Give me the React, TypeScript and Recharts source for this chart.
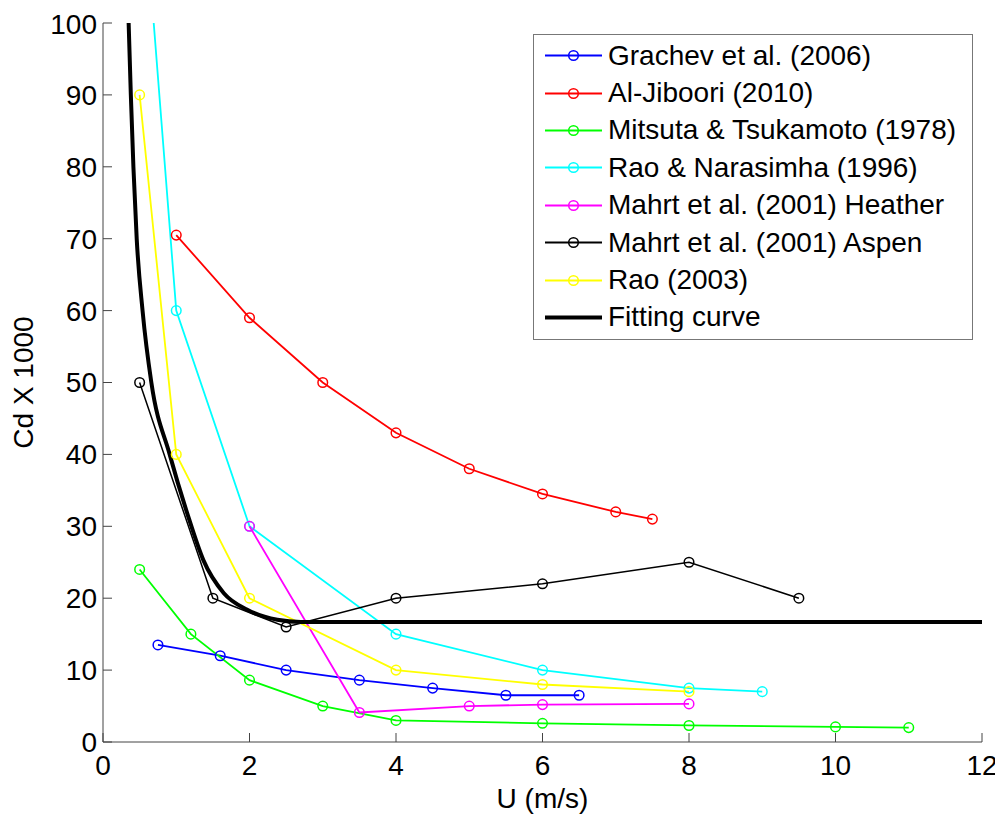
import React from "react";
import { LineChart, Line, XAxis, YAxis, Legend } from "recharts";

// wind speed U (m/s) and drag coefficient Cd x 1000
const GRACHEV_U = [0.75, 1.6, 2.5, 3.5, 4.5, 5.5, 6.5];
const GRACHEV_CD = [13.5, 12, 10, 8.6, 7.5, 6.5, 6.5];

const ALJIBOORI_U = [1, 2, 3, 4, 5, 6, 7, 7.5];
const ALJIBOORI_CD = [70.5, 59, 50, 43, 38, 34.5, 32, 31];

const MITSUTA_U = [0.5, 1.2, 2, 3, 4, 6, 8, 10, 11];
const MITSUTA_CD = [24, 15, 8.6, 5, 3, 2.6, 2.3, 2.1, 2];

const RAO_NARA_U = [0.5, 1, 2, 4, 6, 8, 9];
const RAO_NARA_CD = [125, 60, 30, 15, 10, 7.5, 7];

const HEATHER_U = [2, 3.5, 5, 6, 8];
const HEATHER_CD = [30, 4.1, 5, 5.2, 5.3];

const ASPEN_U = [0.5, 1.5, 2.5, 4, 6, 8, 9.5];
const ASPEN_CD = [50, 20, 16, 20, 22, 25, 20];

const RAO2003_U = [0.5, 1, 2, 4, 6, 8];
const RAO2003_CD = [90, 40, 20, 10, 8, 7];

const FIT_U = [0.35, 0.38, 0.415, 0.46, 0.54, 0.66, 0.91, 1.15, 1.37, 1.65, 1.97, 2.38, 2.7, 12];
const FIT_CD = [100, 90, 80, 70, 60, 50, 40, 31.8, 25.3, 20.7, 18.4, 17.0, 16.7, 16.7];

const X_TICKS = [0, 2, 4, 6, 8, 10, 12];
const Y_TICKS = [0, 10, 20, 30, 40, 50, 60, 70, 80, 90, 100];

const FONT = "'Liberation Sans', Arial, Helvetica, sans-serif";
const AXIS_COLOR = "#444";

const zip = (u: number[], cd: number[]) => u.map((x, i) => ({ u: x, cd: cd[i] }));

const SERIES = [
  { name: "Grachev et al. (2006)", color: "#0000ff", data: zip(GRACHEV_U, GRACHEV_CD), width: 1.8, marker: true },
  { name: "Al-Jiboori (2010)", color: "#ff0000", data: zip(ALJIBOORI_U, ALJIBOORI_CD), width: 1.8, marker: true },
  { name: "Mitsuta & Tsukamoto (1978)", color: "#00ff00", data: zip(MITSUTA_U, MITSUTA_CD), width: 1.8, marker: true },
  { name: "Rao & Narasimha (1996)", color: "#00ffff", data: zip(RAO_NARA_U, RAO_NARA_CD), width: 1.8, marker: true },
  { name: "Mahrt et al. (2001) Heather", color: "#ff00ff", data: zip(HEATHER_U, HEATHER_CD), width: 1.8, marker: true },
  { name: "Mahrt et al. (2001) Aspen", color: "#000000", data: zip(ASPEN_U, ASPEN_CD), width: 1.5, marker: true },
  { name: "Rao (2003)", color: "#ffff00", data: zip(RAO2003_U, RAO2003_CD), width: 1.8, marker: true },
  { name: "Fitting curve", color: "#000000", data: zip(FIT_U, FIT_CD), width: 4, marker: false },
];

const tickStyle = { fill: "#000", fontSize: 28, fontFamily: FONT };

function LegendBox() {
  return (
    <div
      style={{
        width: 440,
        height: 306,
        boxSizing: "border-box",
        border: "1px solid #777",
        background: "#fff",
        paddingTop: 2,
        fontFamily: FONT,
        fontSize: 28,
        color: "#000",
      }}
    >
      {SERIES.map((s) => (
        <div key={s.name} style={{ display: "flex", alignItems: "center", height: 37.4 }}>
          <svg width={74} height={37} style={{ flex: "none" }}>
            <line x1={11} y1={18.5} x2={68} y2={18.5} stroke={s.color} strokeWidth={s.marker ? 1.8 : 4} />
            {s.marker && <circle cx={39.5} cy={18.5} r={4.8} fill="none" stroke={s.color} strokeWidth={1.5} />}
          </svg>
          <span style={{ lineHeight: 1, whiteSpace: "nowrap" }}>{s.name}</span>
        </div>
      ))}
    </div>
  );
}

export default function App() {
  return (
    <LineChart width={995} height={812} margin={{ top: 15, right: 21, left: 35, bottom: 18 }}>
      <XAxis
        xAxisId="b"
        dataKey="u"
        type="number"
        domain={[0, 12]}
        ticks={X_TICKS}
        allowDataOverflow
        height={60}
        tickSize={-9}
        tickMargin={22}
        stroke={AXIS_COLOR}
        tick={tickStyle}
        label={(p: any) => (
          <text
            x={p.viewBox.x + p.viewBox.width / 2}
            y={p.viewBox.y + 66}
            textAnchor="middle"
            fontSize={28}
            fontFamily={FONT}
            fill="#000"
          >
            U (m/s)
          </text>
        )}
      />
      <XAxis
        xAxisId="t"
        orientation="top"
        type="number"
        domain={[0, 12]}
        ticks={X_TICKS}
        allowDataOverflow
        height={0}
        tickSize={-9}
        tick={false}
        stroke={AXIS_COLOR}
      />
      <YAxis
        yAxisId="l"
        type="number"
        domain={[0, 100]}
        ticks={Y_TICKS}
        allowDataOverflow
        width={60}
        tickSize={-9}
        tickMargin={15}
        stroke={AXIS_COLOR}
        tick={tickStyle}
        label={(p: any) => {
          const x = p.viewBox.x - 10;
          const y = p.viewBox.y + p.viewBox.height / 2;
          return (
            <text
              x={x}
              y={y}
              transform={`rotate(-90 ${x} ${y})`}
              textAnchor="middle"
              fontSize={28}
              fontFamily={FONT}
              fill="#000"
            >
              Cd X 1000
            </text>
          );
        }}
      />
      <YAxis
        yAxisId="r"
        orientation="right"
        type="number"
        domain={[0, 100]}
        ticks={Y_TICKS}
        allowDataOverflow
        width={0}
        tickSize={-9}
        tick={false}
        stroke={AXIS_COLOR}
      />
      {SERIES.map((s) => (
        <Line
          key={s.name}
          xAxisId="b"
          yAxisId="l"
          data={s.data}
          dataKey="cd"
          name={s.name}
          type={s.marker ? "linear" : "monotone"}
          stroke={s.color}
          strokeWidth={s.width}
          dot={s.marker ? { r: 4.8, fill: "none", stroke: s.color, strokeWidth: 1.5 } : false}
          activeDot={false}
          isAnimationActive={false}
        />
      ))}
      <Legend
        layout="vertical"
        align="center"
        verticalAlign="middle"
        wrapperStyle={{ left: 525, top: 26, width: 440, height: 306 }}
        content={() => <LegendBox />}
      />
    </LineChart>
  );
}
